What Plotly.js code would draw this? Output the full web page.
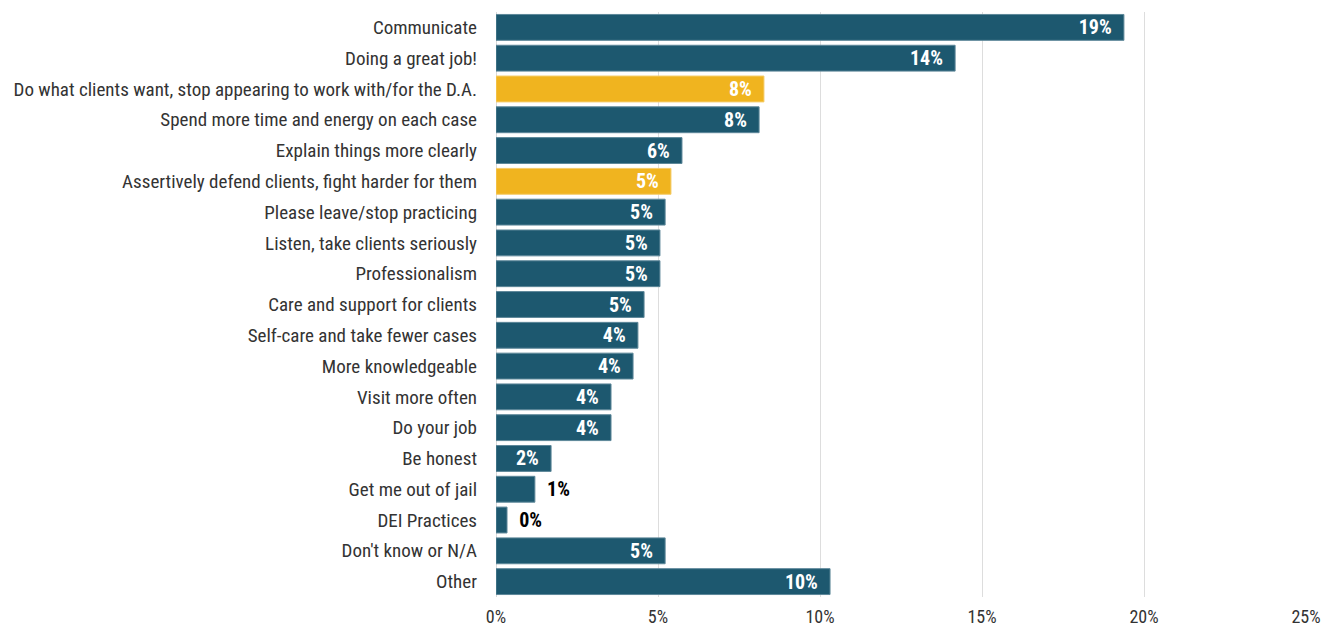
<!DOCTYPE html>
<html>
<head>
<meta charset="utf-8">
<script src="https://cdn.plot.ly/plotly-3.0.1.min.js"></script>
<style>html,body{margin:0;padding:0;background:#fff;}#chart{width:1335px;height:632px;}</style>
</head>
<body>
<div id="chart"></div>
<script>
const categories = [
  "Communicate",
  "Doing a great job!",
  "Do what clients want, stop appearing to work with/for the D.A.",
  "Spend more time and energy on each case",
  "Explain things more clearly",
  "Assertively defend clients, fight harder for them",
  "Please leave/stop practicing",
  "Listen, take clients seriously",
  "Professionalism",
  "Care and support for clients",
  "Self-care and take fewer cases",
  "More knowledgeable",
  "Visit more often",
  "Do your job",
  "Be honest",
  "Get me out of jail",
  "DEI Practices",
  "Don't know or N/A",
  "Other"
];
const values = [19.38, 14.17, 8.27, 8.12, 5.74, 5.40, 5.22, 5.06, 5.06, 4.57, 4.38, 4.23, 3.55, 3.55, 1.70, 1.20, 0.34, 5.22, 10.31];
const highlighted = ["Do what clients want, stop appearing to work with/for the D.A.", "Assertively defend clients, fight harder for them"];
const outsideLabels = ["Get me out of jail", "DEI Practices"];
const tickVals = [0, 5, 10, 15, 20, 25];
const tickText = ["0%", "5%", "10%", "15%", "20%", "25%"];

const TEAL = "#1d586f", GOLD = "#f0b41f";
const FONT = "'Liberation Sans Narrow', 'Arial Narrow', 'Roboto Condensed', Arial, sans-serif";

const colors = categories.map(c => highlighted.includes(c) ? GOLD : TEAL);
const lineColors = categories.map(c => highlighted.includes(c) ? "#f5cc6a" : "#5d8799");
const positions = categories.map(c => outsideLabels.includes(c) ? "outside" : "inside");
const textColors = categories.map(c => outsideLabels.includes(c) ? "#000000" : "#ffffff");
const texts = categories.map((c, i) => outsideLabels.includes(c)
  ? "\u00a0\u00a0<b>" + Math.round(values[i]) + "%</b>"
  : "<b>" + Math.round(values[i]) + "%</b>\u00a0\u00a0");

const trace = {
  type: "bar",
  orientation: "h",
  y: categories,
  x: values,
  marker: {color: colors, line: {color: lineColors, width: 1}},
  text: texts,
  textposition: positions,
  textangle: 0,
  insidetextanchor: "end",
  textfont: {family: FONT, size: 20, color: textColors},
  outsidetextfont: {family: FONT, size: 20, color: "#000000"},
  insidetextfont: {family: FONT, size: 20, color: "#ffffff"},
  cliponaxis: false,
  constraintext: "none",
  hoverinfo: "none"
};

const layout = {
  width: 1335, height: 632,
  margin: {l: 496, r: 29, t: 12, b: 35},
  paper_bgcolor: "#ffffff",
  plot_bgcolor: "#ffffff",
  showlegend: false,
  bargap: 0.16,
  font: {family: FONT, size: 19, color: "#333333"},
  xaxis: {
    range: [0, 25],
    tickvals: tickVals,
    ticktext: tickText,
    showgrid: true,
    gridcolor: "#dddddd",
    gridwidth: 1,
    zeroline: true,
    zerolinecolor: "#d9d9d9",
    zerolinewidth: 1,
    showline: false,
    ticks: "",
    ticklabelstandoff: 7,
    tickfont: {family: FONT, size: 18, color: "#333333"},
    fixedrange: true
  },
  yaxis: {
    autorange: "reversed",
    type: "category",
    showgrid: false,
    zeroline: false,
    showline: false,
    ticks: "",
    ticklabelstandoff: 18,
    tickfont: {family: FONT, size: 19, color: "#333333"},
    fixedrange: true
  }
};

Plotly.newPlot("chart", [trace], layout, {displayModeBar: false, staticPlot: true});
</script>
</body>
</html>
